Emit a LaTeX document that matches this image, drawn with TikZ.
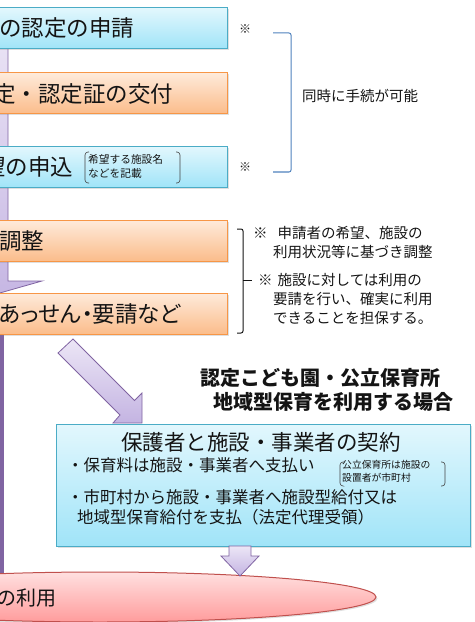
\documentclass[tikz,border=0pt]{standalone}
\usepackage{fontspec}
\newfontfamily\jp{Noto Sans CJK JP}
\newfontfamily\jpp[RawFeature=+palt]{Noto Sans CJK JP}
\usetikzlibrary{shapes.geometric,shadows}
\definecolor{sky}{RGB}{75,172,198}
\definecolor{skytop}{RGB}{226,247,253}
\definecolor{skybot}{RGB}{160,228,248}
\definecolor{peach}{RGB}{247,150,70}
\definecolor{peachtop}{RGB}{254,234,218}
\definecolor{peachbot}{RGB}{251,188,138}
\definecolor{lilac}{RGB}{128,100,162}
\definecolor{lilactop}{RGB}{236,230,246}
\definecolor{lilacbot}{RGB}{196,180,226}
\definecolor{rose}{RGB}{192,80,77}
\definecolor{rosetop}{RGB}{255,224,224}
\definecolor{rosebot}{RGB}{255,156,156}
\definecolor{steel}{RGB}{79,129,189}
\definecolor{ink}{RGB}{20,20,20}
\tikzset{
  every node/.style={inner sep=0pt,text=ink},
  box/.style={draw=#1,line width=1bp,top color=#1top,bottom color=#1bot,
    minimum height=41bp,anchor=east,
    drop shadow={opacity=0.25,shadow xshift=1.5bp,shadow yshift=-1.5bp}},
  box/.default=sky,
  big/.style={font=\jp\fontsize{22.5bp}{26bp}\selectfont,anchor=west},
  note/.style={font=\jp\fontsize{14.5bp}{19bp}\selectfont,align=left,anchor=west},
  item/.style={font=\jp\fontsize{16.5bp}{20bp}\selectfont,align=left,anchor=west},
  tiny/.style={font=\jp\fontsize{#1}{1.3\dimexpr#1\relax}\selectfont,align=left,anchor=west},
  blockarrow/.style={draw=lilac,line width=0.8bp,top color=lilactop,bottom color=lilacbot},
  brace/.style={draw=#1,line width=1bp,rounded corners=2bp},
  paren/.style={draw=ink!80,line width=0.6bp,rounded corners=3bp},
}
\begin{document}
\begin{tikzpicture}[x=1bp,y=-1bp]
  \useasboundingbox (0,0) rectangle (475,622);
  \begin{scope}
    \clip (0,0) rectangle (475,622);
    % arrow under the steps
    \path[blockarrow] (-128,20) -- (8,20) -- (8,281) -- (42,281) -- (-60,310) -- (-162,281) -- (-128,281) -- cycle;
    \fill[lilac] (-20,334) rectangle (4,580);
    % steps
    \node[box=sky,minimum width=420bp] (apply) at (228,28.5) {};
    \node[box=peach,minimum width=420bp] (issue) at (228,93.5) {};
    \node[box=sky,minimum width=420bp] (request) at (228,167) {};
    \node[box=peach,minimum width=420bp] (adjust) at (228,241) {};
    \node[box=peach,minimum width=420bp] (mediate) at (228,314) {};
    \node[big] (applytxt) at (-1,28.5) {の認定の申請};
    \node[big] (issuetxt) at (-7,93.5) {定・認定証の交付};
    \node[big] (requesttxt) at (-17,167) {望の申込};
    \node[big] (adjusttxt) at (-1,241) {調整};
    \node[big,font=\jpp\fontsize{22.5bp}{26bp}\selectfont] (mediatetxt) at (-1,314) {あっせん・要請など};
    \draw[paren] (89,152) -- (85,152) -- (85,183) -- (89,183);
    \draw[paren] (176,152) -- (180,152) -- (180,183) -- (176,183);
    \node[tiny=10.7bp] (wishnote) at (88,166) {希望する施設名\\などを記載};
    % side notes
    \node[note,font=\jp\fontsize{12bp}{14bp}\selectfont] (mark1) at (239,29) {※};
    \node[note,font=\jp\fontsize{12bp}{14bp}\selectfont] (mark2) at (239,167) {※};
    \draw[brace=steel] (273,33) -- (291,33) -- (291,172) -- (273,172);
    \node[note] (samenote) at (302,96) {同時に手続が可能};
    \draw[brace=ink] (237,229) -- (243,229) -- (243,333) -- (237,333);
    \draw[ink,line width=0.8bp] (243,280) -- (252,280);
    \node[note] (hopenote) at (253,242.5) {※\hspace{10bp}申請者の希望、施設の\\\hspace*{20bp}利用状況等に基づき調整};
    \node[note] (usenote) at (258,298.5) {※\hspace{5bp}施設に対しては利用の\\\hspace*{15bp}要請を行い、確実に利用\\\hspace*{15bp}できることを担保する。};
    \node[font=\jp\bfseries\fontsize{20bp}{24bp}\selectfont,align=left,anchor=west] (casehead) at (200,390) {認定こども園・公立保育所\\\hspace*{13bp}地域型保育を利用する場合};
    % contract
    \node[box=sky,anchor=north west,minimum width=414bp,minimum height=122bp] (contract) at (56,424) {};
    \node[font=\jp\fontsize{21.5bp}{26bp}\selectfont] (contracttxt) at (261,442) {保護者と施設・事業者の契約};
    \node[item] (fee) at (67,465) {・保育料は施設・事業者へ支払い};
    \node[item] (benefit) at (67,507) {・市町村から施設・事業者へ施設型給付又は\\\hspace*{10bp}地域型保育給付を支払（法定代理受領）};
    \draw[paren] (343,462) -- (340,462) -- (340,486) -- (343,486);
    \draw[paren] (441,462) -- (445,462) -- (445,486) -- (441,486);
    \node[tiny=9.8bp] (publicnote) at (342,471) {公立保育所は施設の\\設置者が市町村};
    \path[blockarrow] (73,339) -- (134.5,400.5) -- (142,393) -- (142,423) -- (113,423) -- (120,415) -- (58,353) -- cycle;
    % use
    \node[ellipse,draw=rose,line width=1bp,top color=rosetop,bottom color=rosebot,
      minimum width=552bp,minimum height=50bp,
      drop shadow={opacity=0.25,shadow xshift=1.5bp,shadow yshift=-1.5bp}] (use) at (100,597) {};
    \node[font=\jp\fontsize{20bp}{24bp}\selectfont,anchor=west] (usetxt) at (-4,598) {の利用};
    \path[blockarrow] (229,546) -- (229,556) -- (221,556) -- (240,576) -- (259,556) -- (251,556) -- (251,546) -- cycle;
  \end{scope}
\end{tikzpicture}
\end{document}
